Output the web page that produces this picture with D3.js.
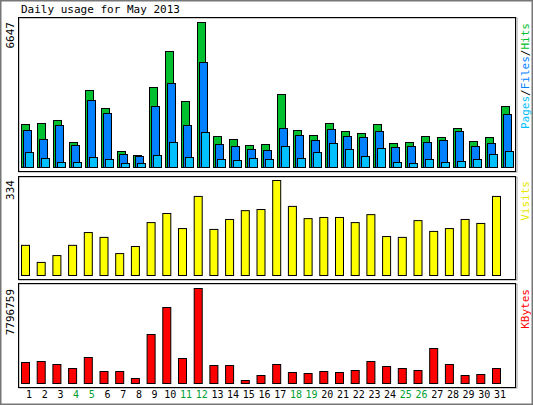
<!DOCTYPE html>
<html><head><meta charset="utf-8">
<script src="https://cdn.jsdelivr.net/npm/d3@7"></script>
<style>body{margin:0;background:#fff}svg{display:block}text{font-family:"DejaVu Sans Mono",monospace}</style>
</head><body><div id="chart"></div>
<script>
const days = d3.range(1, 32);
const weekends = [4, 5, 11, 12, 18, 19, 25, 26];
const k = 6647 / 145;
const hits = [43,44,47,25,77,59,16,12,80,116,66,145,31,28,22,23,73,37,32,44,36,34,43,24,25,31,30,39,26,30,61].map(v => Math.round(v * k));
const files = [37,28,42,22,67,54,13,11,61,84,42,105,23,21,18,17,39,32,27,38,31,30,36,20,21,25,27,36,21,24,53].map(v => Math.round(v * k));
const pages = [15,9,5,5,10,8,4,4,12,25,10,35,8,7,9,8,21,9,15,24,18,11,19,5,4,8,5,6,8,13,16].map(v => Math.round(v * k));
const visits = [106,46,70,106,151,134,77,102,186,218,165,278,162,197,228,232,334,243,200,204,204,186,214,137,134,193,155,165,197,183,278];
const kbytes = [63,66,57,45,78,36,36,15,147,228,75,285,54,54,9,24,57,33,30,36,33,39,66,51,45,39,105,57,24,27,45].map(v => Math.round(v / 285 * 7796759));

const W = 533, H = 405;
const svg = d3.select("#chart").append("svg").attr("width", W).attr("height", H);
svg.append("rect").attr("x", 0.5).attr("y", 0.5).attr("width", W - 1).attr("height", H - 1)
    .attr("fill", "#fff").attr("stroke", "#777").attr("stroke-width", 2);

svg.append("text").attr("x", 21).attr("y", 13).attr("font-size", 11).text("Daily usage for May 2013");

const frame = (y0, y1) => {
    svg.append("rect").attr("x", 19).attr("y", y0 + 1).attr("width", 498).attr("height", y1 - y0)
        .attr("fill", "none").attr("stroke", "#999").attr("stroke-width", 1);
    svg.append("rect").attr("x", 18.5).attr("y", y0 + 0.5).attr("width", 497).attr("height", y1 - y0)
        .attr("fill", "none").attr("stroke", "#000").attr("stroke-width", 1);
};
frame(17, 171);
frame(176, 279);
frame(283, 387);

const vlabel = (x, y, parts, size) => {
    const t = svg.append("text").attr("transform", `translate(${x},${y}) rotate(-90)`)
        .attr("text-anchor", "end").attr("font-size", size);
    parts.forEach(([s, c]) => t.append("tspan").attr("fill", c).text(s));
};

// panel 1
const x1 = d3.scaleLinear().domain([1, 31]).range([21, 501]);
const y1 = d3.scaleLinear().domain([0, 6647]).range([167, 22]);
[[hits, "#00c030", 0], [files, "#0080ff", 2], [pages, "#00c0ff", 4]].forEach(([s, c, off]) => {
    svg.append("g").selectAll("rect").data(s).join("rect")
        .attr("x", (d, i) => x1(days[i]) + off + 0.5).attr("y", d => y1(d) + 0.5)
        .attr("width", 8).attr("height", d => 167 - y1(d))
        .attr("fill", c).attr("stroke", "#000").attr("stroke-width", 1);
});
vlabel(14, 22, [["6647", "#000"]], 11);
vlabel(529, 23, [["Pages", "#00c0ff"], ["/", "#000"], ["Files", "#0080ff"], ["/", "#000"], ["Hits", "#00c030"]], 11);

// panel 2
const x2 = d3.scaleLinear().domain([1, 31]).range([21, 492]);
const y2 = d3.scaleLinear().domain([0, 334]).range([275, 180]);
svg.append("g").selectAll("rect").data(visits).join("rect")
    .attr("x", (d, i) => x2(days[i]) + 0.5).attr("y", d => y2(d) + 0.5)
    .attr("width", 8).attr("height", d => 275 - y2(d))
    .attr("fill", "#ffff00").attr("stroke", "#000");
vlabel(14, 180, [["334", "#000"]], 11);
vlabel(529, 181, [["Visits", "#e8e800"]], 11);

// panel 3
const y3 = d3.scaleLinear().domain([0, 7796759]).range([383, 288]);
svg.append("g").selectAll("rect").data(kbytes).join("rect")
    .attr("x", (d, i) => x2(days[i]) + 0.5).attr("y", d => y3(d) + 0.5)
    .attr("width", 8).attr("height", d => 383 - y3(d))
    .attr("fill", "#ff0000").attr("stroke", "#000");
vlabel(14, 289, [["7796759", "#000"]], 11);
vlabel(529, 289, [["KBytes", "#ff0000"]], 11);

// day labels
svg.append("g").selectAll("text").data(days).join("text")
    .attr("x", d => x2(d) + 8).attr("y", 398).attr("text-anchor", "middle").attr("font-size", 10)
    .attr("fill", d => weekends.includes(d) ? "#00a030" : "#000").text(d => d);
</script></body></html>
